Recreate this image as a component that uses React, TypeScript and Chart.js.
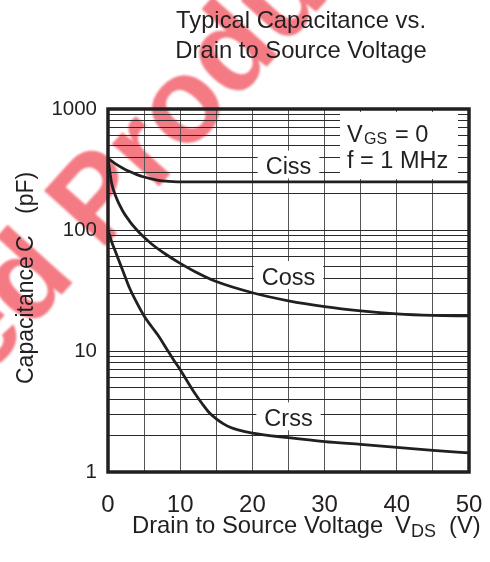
import React, { useEffect, useRef } from 'react';
import { Chart, registerables } from 'chart.js';

Chart.register(...registerables);

const FONT = '"Liberation Sans", Arial, Helvetica, sans-serif';
const INK = '#231f20';

// Axis ticks / grid
const X_GRID = [0, 5, 10, 15, 20, 25, 30, 35, 40, 45, 50];
const X_LABELS = [0, 10, 20, 30, 40, 50];
const Y_GRID = [
  1, 2, 3, 4, 5, 6, 7, 8, 9,
  10, 20, 30, 40, 50, 60, 70, 80, 90,
  100, 200, 300, 400, 500, 600, 700, 800, 900,
  1000,
];
const Y_LABELS = [1, 10, 100, 1000];

// Ciss
const cissV = [0, 1, 2, 3, 4, 5, 6, 7, 8, 9, 10, 20, 30, 40, 50];
const cissC = [390, 354, 326, 304, 287, 274, 264, 257, 253, 251, 250, 250, 250, 250, 250];

// Coss
const cossV = [0, 0.5, 1, 2, 3, 4, 5, 6, 8, 10, 12, 15, 20, 25, 30, 35, 40, 45, 50];
const cossC = [390, 245, 195, 145, 118, 100, 87, 77, 63, 53, 45.5, 37.5, 30.3, 26, 23.3, 21.5, 20.3, 19.7, 19.5];

// Crss
const crssV = [0, 0.5, 1, 2, 3, 4, 5, 6, 7, 8, 9, 10, 11, 12, 13, 14, 15, 16, 17, 18, 20, 25, 30, 35, 40, 45, 50];
const crssC = [100, 80, 67, 47, 33, 25, 19.5, 16, 13.3, 10.7, 8.6, 7.0, 5.6, 4.5, 3.7, 3.1, 2.75, 2.5, 2.33, 2.23, 2.1, 1.92, 1.78, 1.69, 1.6, 1.51, 1.44];

// Curve labels (placed at data coordinates)
const LABEL_TEXT = ['Ciss', 'Coss', 'Crss'];
const LABEL_V = [25, 25, 25];
const LABEL_C = [338, 41.3, 2.8];

const TITLE_LINES = ['Typical Capacitance vs.', 'Drain to Source Voltage'];

const pts = (xs: number[], ys: number[]) => xs.map((x, i) => ({ x, y: ys[i] }));

const annotPlugin = {
  id: 'annot',
  beforeDraw(chart: any) {
    const ctx = chart.ctx as CanvasRenderingContext2D;
    ctx.save();
    ctx.translate(100, 252);
    ctx.rotate((-48 * Math.PI) / 180);
    ctx.font = `bold 120px ${FONT}`;
    ctx.fillStyle = 'rgba(237, 40, 55, 0.62)';
    (ctx as any).filter = 'blur(1.2px)';
    ctx.textBaseline = 'alphabetic';
    ctx.textAlign = 'right';
    ctx.fillText('Discontinued ', 0, 0);
    ctx.textAlign = 'left';
    ctx.fillText('Product', 0, 0);
    ctx.restore();
  },
  beforeDatasetsDraw(chart: any) {
    const ctx = chart.ctx as CanvasRenderingContext2D;
    const xs = chart.scales.x;
    const ys = chart.scales.y;
    const area = chart.chartArea;
    ctx.save();
    ctx.textBaseline = 'alphabetic';
    const size = 23.5;
    ctx.font = `${size}px ${FONT}`;
    const cap = size * 0.716;
    LABEL_TEXT.forEach((t, i) => {
      const cx = xs.getPixelForValue(LABEL_V[i]);
      const cy = ys.getPixelForValue(LABEL_C[i]);
      const base = cy + cap / 2;
      const w = ctx.measureText(t).width;
      ctx.fillStyle = '#ffffff';
      ctx.fillRect(cx - w / 2 - 8, base - cap - 7, w + 16, cap + 11);
      ctx.fillStyle = INK;
      ctx.textAlign = 'center';
      ctx.fillText(t, cx, base);
    });
    // Conditions box
    const bx0 = area.right - 129;
    const bx1 = area.right - 11;
    ctx.fillStyle = '#ffffff';
    ctx.fillRect(bx0, area.top + 3, bx1 - bx0, 67);
    ctx.fillStyle = INK;
    ctx.textAlign = 'left';
    ctx.font = `${size}px ${FONT}`;
    ctx.fillText('V', bx0 + 7, area.top + 33);
    ctx.font = `16px ${FONT}`;
    ctx.fillText('GS', bx0 + 24, area.top + 35);
    ctx.font = `${size}px ${FONT}`;
    ctx.fillText('= 0', bx0 + 55, area.top + 33);
    ctx.fillText('f = 1 MHz', bx0 + 7, area.top + 59);
    ctx.restore();
  },
  afterDatasetsDraw(chart: any) {
    const ctx = chart.ctx as CanvasRenderingContext2D;
    const a = chart.chartArea;
    ctx.save();
    ctx.strokeStyle = INK;
    ctx.lineWidth = 3.5;
    ctx.strokeRect(a.left, a.top, a.right - a.left, a.bottom - a.top);
    ctx.restore();
  },
  afterDraw(chart: any) {
    const ctx = chart.ctx as CanvasRenderingContext2D;
    ctx.save();
    ctx.fillStyle = INK;
    ctx.textBaseline = 'alphabetic';
    // Title
    ctx.font = `23.8px ${FONT}`;
    ctx.textAlign = 'center';
    ctx.fillText(TITLE_LINES[0], 301, 28);
    ctx.fillText(TITLE_LINES[1], 301, 58);
    // X axis title
    ctx.textAlign = 'left';
    ctx.font = `23.8px ${FONT}`;
    ctx.fillText('Drain to Source Voltage', 132, 533);
    ctx.fillText('V', 395, 533);
    ctx.font = `18px ${FONT}`;
    ctx.fillText('DS', 411, 537);
    ctx.font = `23.8px ${FONT}`;
    ctx.fillText('(V)', 449, 533);
    // Y axis title
    ctx.save();
    ctx.translate(33, 384);
    ctx.rotate(-Math.PI / 2);
    ctx.font = `23px ${FONT}`;
    ctx.fillText('Capacitance', 0, 0);
    ctx.fillText('C', 132, 0);
    ctx.fillText('(pF)', 170, 0);
    ctx.restore();
    ctx.restore();
  },
};

export default function App() {
  const ref = useRef<HTMLCanvasElement | null>(null);
  useEffect(() => {
    if (!ref.current) return;
    const lineStyle = {
      borderColor: INK,
      borderWidth: 2.8,
      pointRadius: 0,
      fill: false,
      cubicInterpolationMode: 'monotone' as const,
    };
    const chart = new Chart(ref.current, {
      type: 'line',
      data: {
        datasets: [
          { label: 'Ciss', data: pts(cissV, cissC), ...lineStyle },
          { label: 'Coss', data: pts(cossV, cossC), ...lineStyle },
          { label: 'Crss', data: pts(crssV, crssC), ...lineStyle },
        ],
      },
      options: {
        animation: false,
        responsive: false,
        maintainAspectRatio: false,
        layout: { padding: { top: 109, right: 21, left: 0, bottom: 0 } },
        plugins: {
          legend: { display: false },
          title: { display: false },
          tooltip: { enabled: false },
        },
        scales: {
          x: {
            type: 'linear',
            min: 0,
            max: 50,
            afterBuildTicks: (s: any) => {
              s.ticks = X_GRID.map((v) => ({ value: v }));
            },
            afterFit: (s: any) => {
              s.height = 90;
              s.paddingLeft = 0;
              s.paddingRight = 0;
            },
            ticks: {
              autoSkip: false,
              maxRotation: 0,
              padding: 19,
              color: INK,
              font: { family: FONT, size: 24 },
              callback: (v: any) => (X_LABELS.includes(Number(v)) ? String(v) : ''),
            },
            grid: { color: '#555555', lineWidth: 1, drawTicks: false },
            border: { display: false },
          },
          y: {
            type: 'logarithmic',
            min: 1,
            max: 1000,
            afterBuildTicks: (s: any) => {
              s.ticks = Y_GRID.map((v) => ({ value: v }));
            },
            afterFit: (s: any) => {
              s.width = 108;
              s.paddingTop = 0;
              s.paddingBottom = 0;
            },
            ticks: {
              autoSkip: false,
              padding: 11,
              color: INK,
              font: { family: FONT, size: 20.5 },
              callback: (v: any) => (Y_LABELS.includes(Number(v)) ? String(v) : ''),
            },
            grid: { color: '#2a2a2a', lineWidth: 1, drawTicks: false },
            border: { display: false },
          },
        },
      },
      plugins: [annotPlugin],
    });
    return () => chart.destroy();
  }, []);
  return (
    <div style={{ position: 'absolute', left: 0, top: 0, width: 490, height: 562, background: '#fff' }}>
      <canvas ref={ref} width={490} height={562} style={{ display: 'block', width: 490, height: 562 }} />
    </div>
  );
}
